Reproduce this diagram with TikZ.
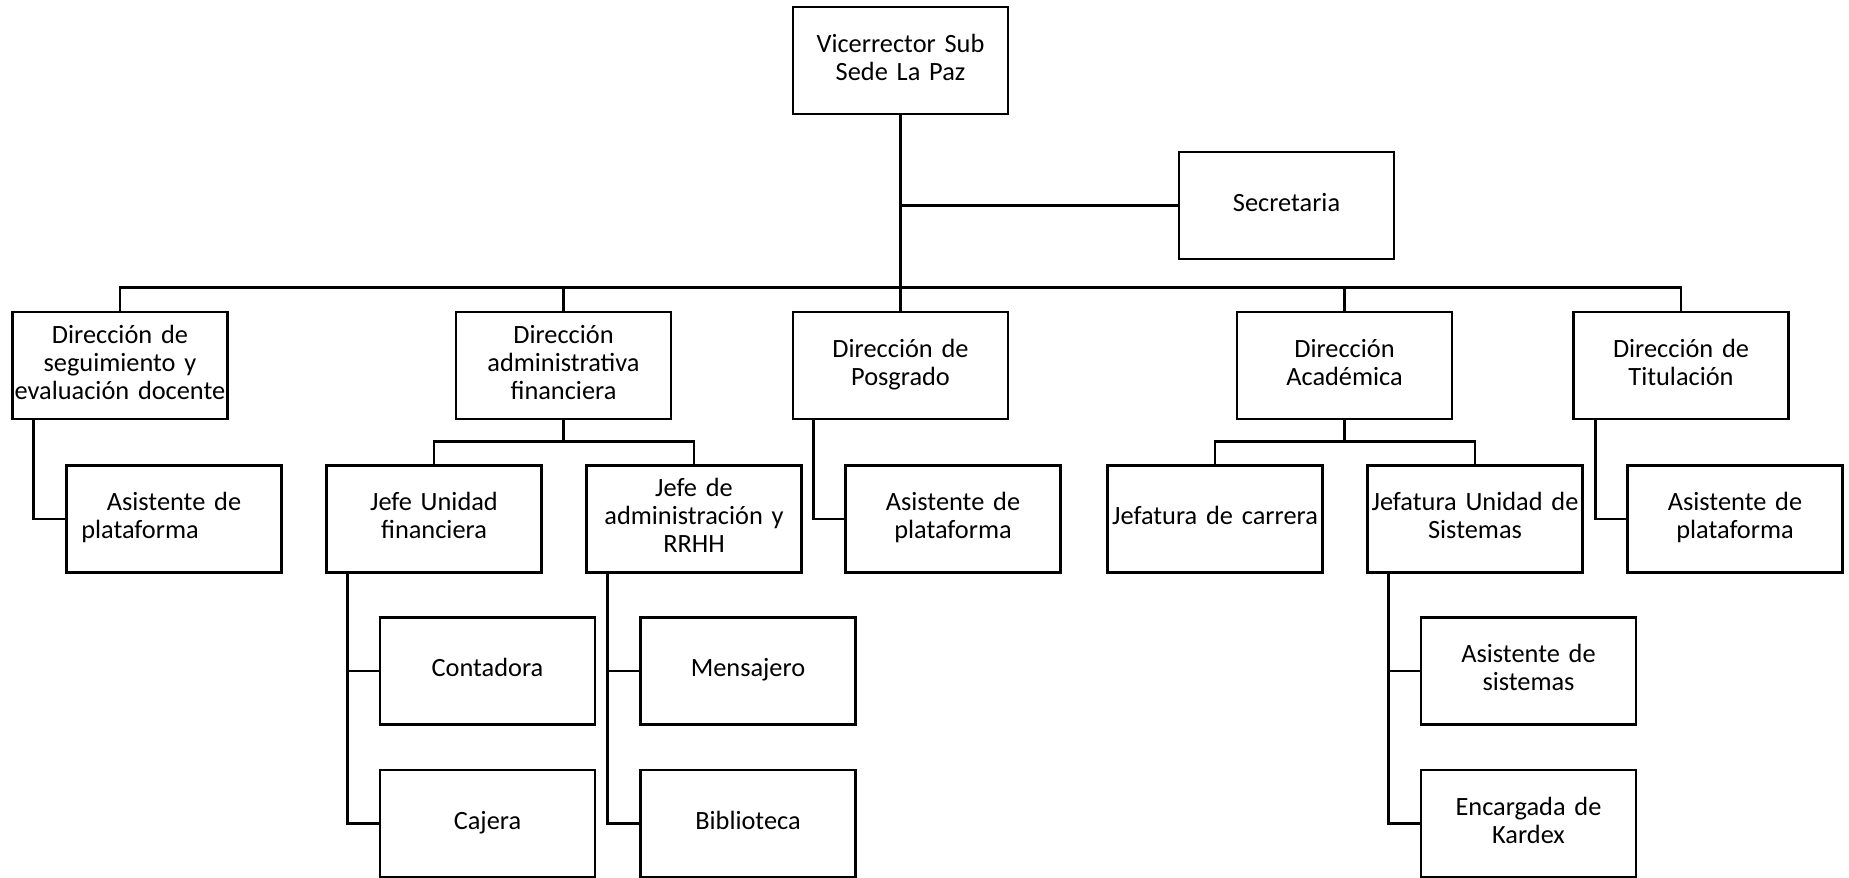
\documentclass[tikz,border=0pt]{standalone}
\usepackage{fontspec}
\setmainfont{Carlito}
\usetikzlibrary{calc}
\tikzset{
  unit/.style={draw, rectangle, line width=1.6pt, inner sep=0pt,
    minimum width=4.3cm, minimum height=2.14cm, text width=4.3cm,
    align=center, font=\fontsize{15pt}{16pt}\selectfont,
    execute at begin node=\strut, execute at end node=\strut},
  link/.style={line width=1.6pt},
}
\begin{document}
\begin{tikzpicture}[x=0.02cm, y=-0.02cm]
\useasboundingbox (0,0) rectangle (1849,877);
% head
\node[unit] (vice) at (900.5,60.5) {Vicerrector Sub\\Sede La Paz};
\node[unit] (secre) at (1286.5,205.5) {Secretaria};
% direcciones
\node[unit] (dseg) at (120,365.5) {Dirección de\\seguimiento y\\evaluación docente};
\node[unit] (dadm) at (563.5,365.5) {Dirección\\administrativa\\financiera};
\node[unit] (dpos) at (900.5,365.5) {Dirección de\\Posgrado};
\node[unit] (daca) at (1344.5,365.5) {Dirección\\Académica};
\node[unit] (dtit) at (1681,365.5) {Dirección de\\Titulación};
% jefaturas y asistentes
\node[unit] (asis1) at (174,519) {Asistente de\\plataforma\rule{1.36cm}{0pt}};
\node[unit] (jfin) at (434,519) {Jefe Unidad\\financiera};
\node[unit] (jadm) at (694,519) {Jefe de\\administración y\\RRHH};
\node[unit] (asis2) at (953,519) {Asistente de\\plataforma};
\node[unit] (jcar) at (1215,519) {Jefatura de carrera};
\node[unit] (jsis) at (1475,519) {Jefatura Unidad de\\Sistemas};
\node[unit] (asis3) at (1735,519) {Asistente de\\plataforma};
% personal
\node[unit] (conta) at (487.5,671) {Contadora};
\node[unit] (cajer) at (487.5,823.5) {Cajera};
\node[unit] (mensa) at (748,671) {Mensajero};
\node[unit] (bibli) at (748,823.5) {Biblioteca};
\node[unit] (asisis) at (1528.5,671) {Asistente de\\sistemas};
\node[unit] (kardex) at (1528.5,823.5) {Encargada de\\Kardex};
% lines
\draw[link] (vice) -- (dpos);
\draw[link] (secre.west) -- (secre.west -| vice.south);
\draw[link] (dseg.north) -- ++(0,-23) -| (dtit.north);
\draw[link] (dadm.north) -- ++(0,-23);
\draw[link] (daca.north) -- ++(0,-23);
\draw[link] (dadm.south) -- ++(0,23);
\draw[link] (jfin.north) -- ++(0,-23) -| (jadm.north);
\draw[link] (daca.south) -- ++(0,23);
\draw[link] (jcar.north) -- ++(0,-23) -| (jsis.north);
\draw[link] (dseg.south west) ++(22,0) |- (asis1.west);
\draw[link] (dpos.south west) ++(22,0) |- (asis2.west);
\draw[link] (dtit.south west) ++(23,0) |- (asis3.west);
\draw[link] (jfin.south west) ++(22,0) |- (conta.west);
\draw[link] (jfin.south west) ++(22,0) |- (cajer.west);
\draw[link] (jadm.south west) ++(22,0) |- (mensa.west);
\draw[link] (jadm.south west) ++(22,0) |- (bibli.west);
\draw[link] (jsis.south west) ++(22,0) |- (asisis.west);
\draw[link] (jsis.south west) ++(22,0) |- (kardex.west);
\end{tikzpicture}
\end{document}
